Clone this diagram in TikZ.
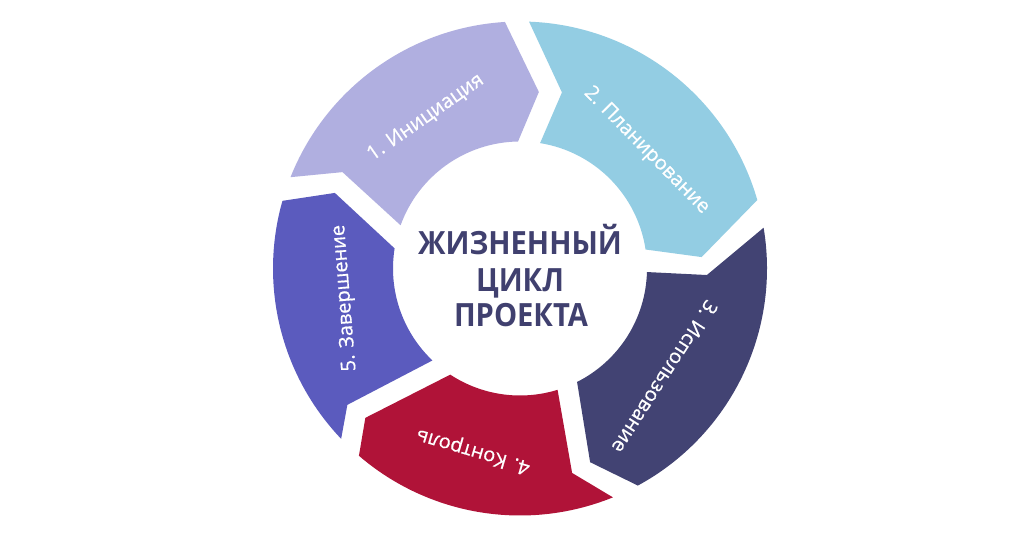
\documentclass[tikz,border=0pt]{standalone}
\usepackage{fontspec}
\setmainfont{Open Sans}
\newfontfamily\lblfont{Open Sans}[FakeBold=0.6]
\definecolor{c1}{HTML}{B0AFE0}
\definecolor{c2}{HTML}{93CDE3}
\definecolor{c3}{HTML}{424373}
\definecolor{c4}{HTML}{B01338}
\definecolor{c5}{HTML}{5B5BBE}
\definecolor{ctext}{HTML}{40406F}
% #1 colour, #2 trailing outer, #3 notch angle, #4 notch radius, #5 trailing inner,
% #6 leading outer, #7 tip angle, #8 tip radius, #9 leading inner
\newcommand\mysegment[9]{%
  \fill[#1] (#2:247pt) arc[start angle=#2, end angle=#6, radius=247pt]
    -- (#7:#8pt) -- (#9:127pt) arc[start angle=#9, end angle=#5, radius=127pt]
    -- (#3:#4pt) -- cycle;}
\newcommand\titletext[1]{\scalebox{0.91}[1]{#1}}
\begin{document}
\begin{tikzpicture}[
  lbl/.style={text=white, font=\lblfont\fontsize{20}{23}\selectfont, inner sep=0pt},
  title/.style={text=ctext, font=\fontsize{32}{36}\selectfont\bfseries, anchor=base, inner sep=0pt}]
\useasboundingbox (0,0) rectangle (1024pt,536pt);
\fill[white] (0,0) rectangle (1024pt,536pt);
\begin{scope}[shift={(520pt,267.5pt)}]
  \mysegment{c1}{158.3}{151.5}{202}{160.1}{93.5}{83.9}{177.5}{90.9}
  \mysegment{c2}{87.9}{76.6}{181}{80.9}{16.1}{3.6}{182}{8.6}
  \mysegment{c3}{9.5}{-2}{187}{-1.6}{-61.5}{-70.1}{206}{-63.3}
  \mysegment{c4}{-67.9}{-75.7}{211}{-72.8}{-130.7}{-136}{215}{-123.3}
  \mysegment{c5}{223.6}{218.3}{220}{226.4}{164.1}{157.8}{200}{170.9}
  \node[lbl, rotate=35] (l1) at (122:178pt) {1. Инициация};
  \node[lbl, rotate=-45.4] (l2) at (43:173pt) {2. Планирование};
  \node[lbl, rotate=-122.8] (l3) at (-36.8:181pt) {3. Использование};
  \node[lbl, rotate=163.7] (l4) at (-104.4:188pt) {4. Контроль};
  \node[lbl, rotate=94.5] (l5) at (-170.4:177.5pt) {5. Завершение};
\end{scope}
\node[title] (t1) at (520pt,281pt) {\titletext{ЖИЗНЕННЫЙ}};
\node[title] (t2) at (520pt,245pt) {\titletext{ЦИКЛ}};
\node[title] (t3) at (521pt,210pt) {\titletext{ПРОЕКТА}};
\end{tikzpicture}
\end{document}
